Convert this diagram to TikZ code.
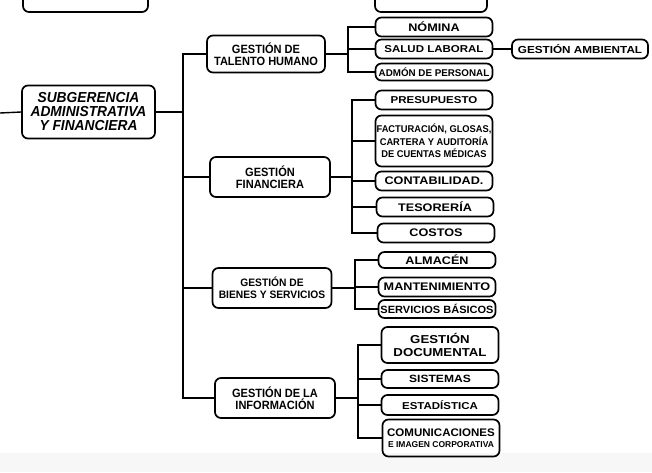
\documentclass[tikz,border=0pt]{standalone}
\usepackage{fontspec}
\newfontfamily\fA[FakeStretch=1.15]{Liberation Sans}
\newfontfamily\fB{Liberation Sans}
\newfontfamily\fC[FakeStretch=0.95]{Liberation Sans}
\newfontfamily\fD[FakeStretch=1.05]{Liberation Sans}
\newfontfamily\fE[FakeStretch=0.92]{Liberation Sans}
\begin{document}
\begin{tikzpicture}[x=1pt,y=-1pt,
  every node/.style={inner sep=0.5pt, align=center},
  box/.style={draw, line width=1.7pt, rounded corners=6pt},
  mid/.style={box, font=\fE\bfseries\fontsize{12}{12.5}\selectfont},
  leaf/.style={box, minimum width=117pt, minimum height=19pt, font=\fA\bfseries\fontsize{11}{12}\selectfont},
  conn/.style={line width=1.4pt}]
\useasboundingbox (0,0) rectangle (652,472);
\fill[black!3] (0,453) rectangle (652,472);
% partial boxes cut by top edge
\begin{scope}
\clip (0,0) rectangle (652,472);
\draw[line width=1.7pt, rounded corners=6pt] (23,-30) rectangle (148,12);
\draw[line width=1.7pt, rounded corners=6pt] (375,-30) rectangle (487,12);
\end{scope}
% main node
\node[box, minimum width=133pt, minimum height=53pt, font=\fC\bfseries\itshape\fontsize{14.5}{14}\selectfont] (sub) at (88.5,112) {SUBGERENCIA\\ADMINISTRATIVA\\Y FINANCIERA};
% middle level
\node[mid, minimum width=118pt, minimum height=37pt] (tal) at (266,54) {GESTIÓN DE\\TALENTO HUMANO};
\node[mid, minimum width=120pt, minimum height=40pt] (fin) at (270,177) {GESTIÓN\\FINANCIERA};
\node[mid, minimum width=119pt, minimum height=40pt, font=\fC\bfseries\fontsize{10.8}{12.5}\selectfont] (bie) at (272,288) {GESTIÓN DE\\BIENES Y SERVICIOS};
\node[mid, minimum width=120pt, minimum height=40pt] (inf) at (275,398) {GESTIÓN DE LA\\INFORMACIÓN};
% leaves
\node[leaf] (nom) at (434,27) {NÓMINA};
\node[leaf, font=\fA\bfseries\fontsize{10}{11}\selectfont] (sal) at (434,49) {SALUD LABORAL};
\node[leaf, minimum height=17pt, font=\fB\bfseries\fontsize{9.8}{10}\selectfont] (adm) at (434,72) {ADMÓN DE PERSONAL};
\node[leaf, minimum width=136pt, font=\fA\bfseries\fontsize{10.2}{11}\selectfont] (amb) at (580,49) {GESTIÓN AMBIENTAL};
\node[leaf, font=\fA\bfseries\fontsize{10}{11}\selectfont] (pre) at (434,100) {PRESUPUESTO};
\node[leaf, minimum height=51pt, font=\fC\bfseries\fontsize{9.8}{12.5}\selectfont] (fac) at (434,141) {FACTURACIÓN, GLOSAS,\\CARTERA Y AUDITORÍA\\DE CUENTAS MÉDICAS};
\node[leaf] (con) at (434,181) {CONTABILIDAD.};
\node[leaf] (tes) at (435,207) {TESORERÍA};
\node[leaf] (cos) at (436,233) {COSTOS};
\node[leaf, minimum height=16pt] (alm) at (437,260) {ALMACÉN};
\node[leaf] (man) at (437,287) {MANTENIMIENTO};
\node[leaf, minimum height=18pt, font=\fD\bfseries\fontsize{10.5}{11}\selectfont] (ser) at (437,309) {SERVICIOS BÁSICOS};
\node[leaf, minimum height=36pt, font=\fA\bfseries\fontsize{11.5}{13}\selectfont] (doc) at (440,345) {GESTIÓN\\DOCUMENTAL};
\node[leaf, minimum height=18pt, font=\fA\bfseries\fontsize{10.5}{11}\selectfont] (sis) at (440,379) {SISTEMAS};
\node[leaf, minimum height=20pt, font=\fA\bfseries\fontsize{10}{11}\selectfont] (est) at (440,405) {ESTADÍSTICA};
\node[leaf, minimum height=37pt, font=\fD\bfseries\fontsize{11}{12}\selectfont] (com) at (441,438) {COMUNICACIONES\\[-1pt]{\fB\fontsize{8.5}{9}\selectfont E IMAGEN CORPORATIVA}};
% trunk coordinates
\coordinate (lin) at (0,113);
\coordinate (mt) at (183,0);
\coordinate (s1) at (348,0);
\coordinate (s2) at (352,0);
\coordinate (s3) at (355,0);
\coordinate (s4) at (358,0);
% main connectors
\draw[conn] (lin) -- (sub.west);
\draw[conn] (sub.east) -- (sub.east -| mt);
\draw[conn] (tal.west) -- (tal.west -| mt) -- (inf.west -| mt) -- (inf.west);
\draw[conn] (fin.west) -- (fin.west -| mt);
\draw[conn] (bie.west) -- (bie.west -| mt);
% talento
\draw[conn] (tal.east) -- (tal.east -| s1);
\draw[conn] (nom.west) -- (nom.west -| s1) -- (adm.west -| s1) -- (adm.west);
\draw[conn] (sal.west) -- (sal.west -| s1);
\draw[conn] (sal.east) -- (amb.west);
% financiera
\draw[conn] (fin.east) -- (fin.east -| s2);
\draw[conn] (pre.west) -- (pre.west -| s2) -- (cos.west -| s2) -- (cos.west);
\draw[conn] (fac.west) -- (fac.west -| s2);
\draw[conn] (con.west) -- (con.west -| s2);
\draw[conn] (tes.west) -- (tes.west -| s2);
% bienes
\draw[conn] (bie.east) -- (bie.east -| s3);
\draw[conn] (alm.west) -- (alm.west -| s3) -- (ser.west -| s3) -- (ser.west);
\draw[conn] (man.west) -- (man.west -| s3);
% informacion
\draw[conn] (inf.east) -- (inf.east -| s4);
\draw[conn] (doc.west) -- (doc.west -| s4) -- (com.west -| s4) -- (com.west);
\draw[conn] (sis.west) -- (sis.west -| s4);
\draw[conn] (est.west) -- (est.west -| s4);
\end{tikzpicture}
\end{document}
